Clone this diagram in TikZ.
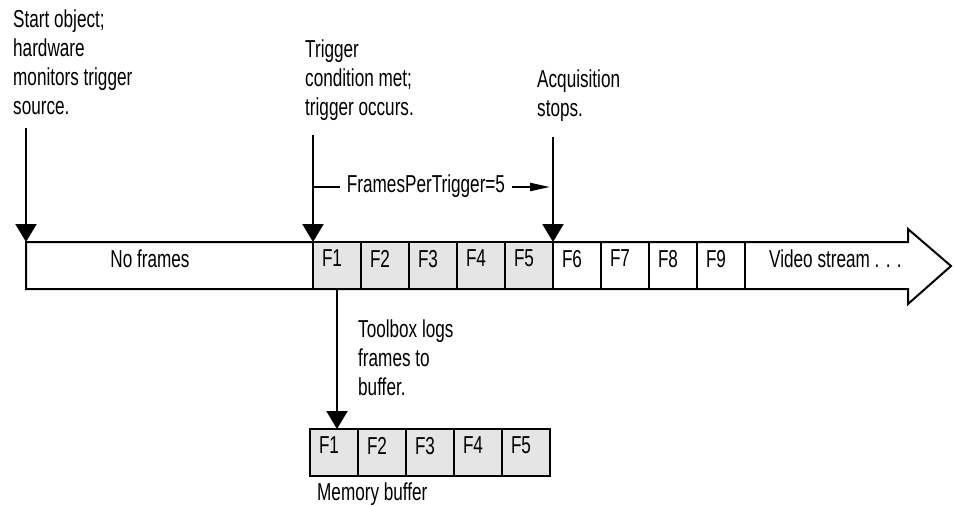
\documentclass[tikz,border=0pt]{standalone}
\usepackage{fontspec}
\setmainfont{Liberation Sans}[FakeStretch=0.70]
\usetikzlibrary{positioning}
\usetikzlibrary{arrows.meta}

\tikzset{
  txt/.style={font=\fontsize{24.5}{29}\selectfont, inner sep=0pt},
  note/.style={txt, align=left, anchor=north west},
  cell/.style={txt, draw, line width=2pt, minimum width=48pt, minimum height=47pt,
    text width=30pt, inner xsep=9pt, align=left, text depth=14pt, outer sep=0pt},
  logged/.style={cell, fill=gray!20},
  arr/.style={-{Triangle[length=18pt,width=21pt]}, line width=2pt},
  sarr/.style={-{Triangle[length=20pt,width=8pt]}, line width=2pt}
}

\begin{document}
\begin{tikzpicture}[x=1pt,y=-1pt]
  \useasboundingbox (0,0) rectangle (954,506);

  % video stream
  \draw[line width=2pt] (26,242) -- (908,242) -- (908,229) -- (951,266)
    -- (908,304) -- (908,289) -- (26,289) -- cycle;
  \node[logged] (f1) at (337,265.5) {F1};
  \node[logged, right=0pt of f1] (f2) {F2};
  \node[logged, right=0pt of f2] (f3) {F3};
  \node[logged, right=0pt of f3] (f4) {F4};
  \node[logged, right=0pt of f4] (f5) {F5};
  \node[cell, right=0pt of f5] (f6) {F6};
  \node[cell, right=0pt of f6] (f7) {F7};
  \node[cell, right=0pt of f7] (f8) {F8};
  \node[cell, right=0pt of f8] (f9) {F9};
  \node[txt, anchor=base] (noframes) at (150,267) {No frames};
  \node[txt, anchor=base west] (video) at (769,267) {Video stream . . .};

  % events
  \node[note] (start) at (13,10) {Start object;\\hardware\\monitors trigger\\source.};
  \node[note] (trigger) at (305,40) {Trigger\\condition met;\\trigger occurs.};
  \node[note] (stops) at (537,70) {Acquisition\\stops.};
  \node[note] (logs) at (358,320) {Toolbox logs\\frames to\\buffer.};

  \coordinate (startin) at (26,128);
  \coordinate (origin) at (26,242);
  \coordinate (trigin) at (313,135);
  \coordinate (stopin) at (553,137);
  \draw[arr] (startin) -- (origin);
  \draw[arr] (trigin) -- (f1.north west);
  \draw[arr] (stopin) -- (f5.north east);

  % frames per trigger
  \node[txt, inner xsep=7pt, anchor=base] (fpt) at (426,192) {FramesPerTrigger=5};
  \coordinate (fptin) at (313,187);
  \coordinate (fptout) at (550,187);
  \draw[line width=2pt] (fptin) -- (fptin -| fpt.west);
  \draw[sarr] (fptout -| fpt.east) -- (fptout);

  % memory buffer
  \node[logged] (b1) at (334,452.5) {F1};
  \node[logged, right=0pt of b1] (b2) {F2};
  \node[logged, right=0pt of b2] (b3) {F3};
  \node[logged, right=0pt of b3] (b4) {F4};
  \node[logged, right=0pt of b4] (b5) {F5};
  \node[txt, anchor=base west] (membuf) at (317,500) {Memory buffer};
  \draw[arr] (f1.south) -- (f1.south |- b1.north);
\end{tikzpicture}
\end{document}
